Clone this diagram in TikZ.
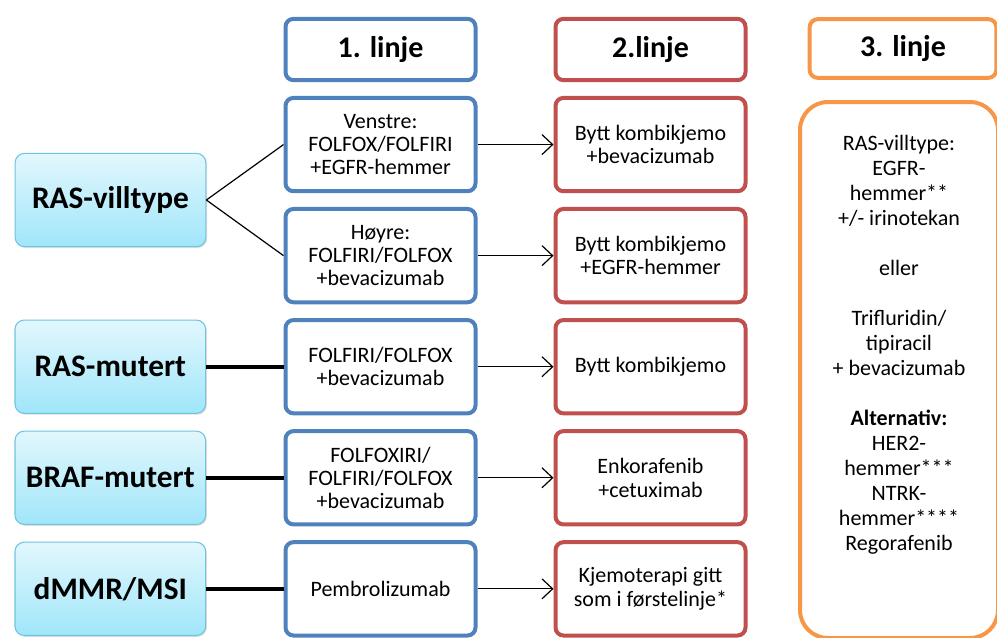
\documentclass[tikz,border=0pt]{standalone}
\usepackage{fontspec}
\setmainfont{Carlito}
\usetikzlibrary{positioning, arrows.meta, shadows}

\definecolor{lineblue}{RGB}{79,129,189}
\definecolor{linered}{RGB}{192,80,77}
\definecolor{lineorange}{RGB}{247,150,70}
\definecolor{cyantop}{RGB}{226,247,253}
\definecolor{cyanbot}{RGB}{160,230,250}
\definecolor{cyanedge}{RGB}{112,196,222}

\begin{document}
\begin{tikzpicture}[x=0.75pt, y=-0.75pt, node distance=10.3pt,
  every node/.style={font=\fontsize{16.5}{17.5}\selectfont}]

  \tikzstyle{box}=[rounded corners=6pt, draw, line width=3pt, fill=white, align=center,
    minimum width=142.5pt, minimum height=70pt, inner sep=2pt]
  \tikzstyle{first}=[box, draw=lineblue]
  \tikzstyle{second}=[box, draw=linered]
  \tikzstyle{third}=[box, draw=lineorange]
  \tikzstyle{head}=[minimum height=46pt, font=\fontsize{22.5}{26}\selectfont\bfseries]
  \tikzstyle{group}=[rounded corners=7pt, draw=cyanedge, line width=0.8pt,
    top color=cyantop, bottom color=cyanbot, minimum width=143pt, minimum height=70pt,
    align=center, font=\fontsize{23.5}{27}\selectfont\bfseries,
    drop shadow={opacity=0.25, shadow xshift=1pt, shadow yshift=-1pt}]
  \tikzstyle{link}=[line width=0.9pt]
  \tikzstyle{bar}=[line width=3pt]
  \tikzstyle{next}=[-{Straight Barb[length=8pt, width=15pt]}, line width=0.9pt]

  \useasboundingbox (0,0) rectangle (997,637);

  % column heads
  \node [first, head] (L-1) at (380.5,49.5) {1. linje};
  \node [second, head] (L-2) at (650.5,49.5) {2.linje};
  \node [third, head, minimum width=140pt, minimum height=44pt] (L-3) at (903,48.5) {3. linje};

  % 1. linje
  \node [first, below = of L-1] (V-1) {Venstre:\\FOLFOX/FOLFIRI\\+EGFR-hemmer};
  \node [first, below = of V-1] (H-1) {Høyre:\\FOLFIRI/FOLFOX\\+bevacizumab};
  \node [first, below = of H-1] (M-1) {FOLFIRI/FOLFOX\\+bevacizumab};
  \node [first, below = of M-1] (B-1) {FOLFOXIRI/\\FOLFIRI/FOLFOX\\+bevacizumab};
  \node [first, below = of B-1] (D-1) {Pembrolizumab};

  % 2. linje
  \node [second, right = 57pt of V-1] (V-2) {Bytt kombikjemo\\+bevacizumab};
  \node [second, right = 57pt of H-1] (H-2) {Bytt kombikjemo\\+EGFR-hemmer};
  \node [second, right = 57pt of M-1] (M-2) {Bytt kombikjemo};
  \node [second, right = 57pt of B-1] (B-2) {Enkorafenib\\+cetuximab};
  \node [second, right = 57pt of D-1] (D-2) {Kjemoterapi gitt\\som i førstelinje*};

  % 3. linje
  \node [third, rounded corners=21pt, minimum width=148.5pt, minimum height=402pt] (R-3) at (899,370) {};
  \node [anchor=north, align=center, font=\fontsize{16.5}{18.75}\selectfont] (T-3) at (899,131) {
    RAS-villtype:\\EGFR-\\hemmer**\\+/- irinotekan\\[18.75pt]
    eller\\[18.75pt]
    Trifluridin/\\tipiracil\\+ bevacizumab\\[18.75pt]
    \textbf{Alternativ:}\\HER2-\\hemmer***\\NTRK-\\hemmer****\\Regorafenib
  };

  % groups
  \node [group] (RAS-w) at (110.5,200) {RAS-villtype};
  \node [group, left = 58pt of M-1] (RAS-m) {RAS-mutert};
  \node [group, left = 58pt of B-1] (BRAF) {BRAF-mutert};
  \node [group, left = 58pt of D-1] (MSI) {dMMR/MSI};

  \draw [link] (RAS-w.east) -- (V-1.west);
  \draw [link] (RAS-w.east) -- (H-1.west);
  \draw [bar] (RAS-m) -- (M-1);
  \draw [bar] (BRAF) -- (B-1);
  \draw [bar] (MSI) -- (D-1);

  \draw [next] (V-1) -- (V-2);
  \draw [next] (H-1) -- (H-2);
  \draw [next] (M-1) -- (M-2);
  \draw [next] (B-1) -- (B-2);
  \draw [next] (D-1) -- (D-2);
\end{tikzpicture}
\end{document}
